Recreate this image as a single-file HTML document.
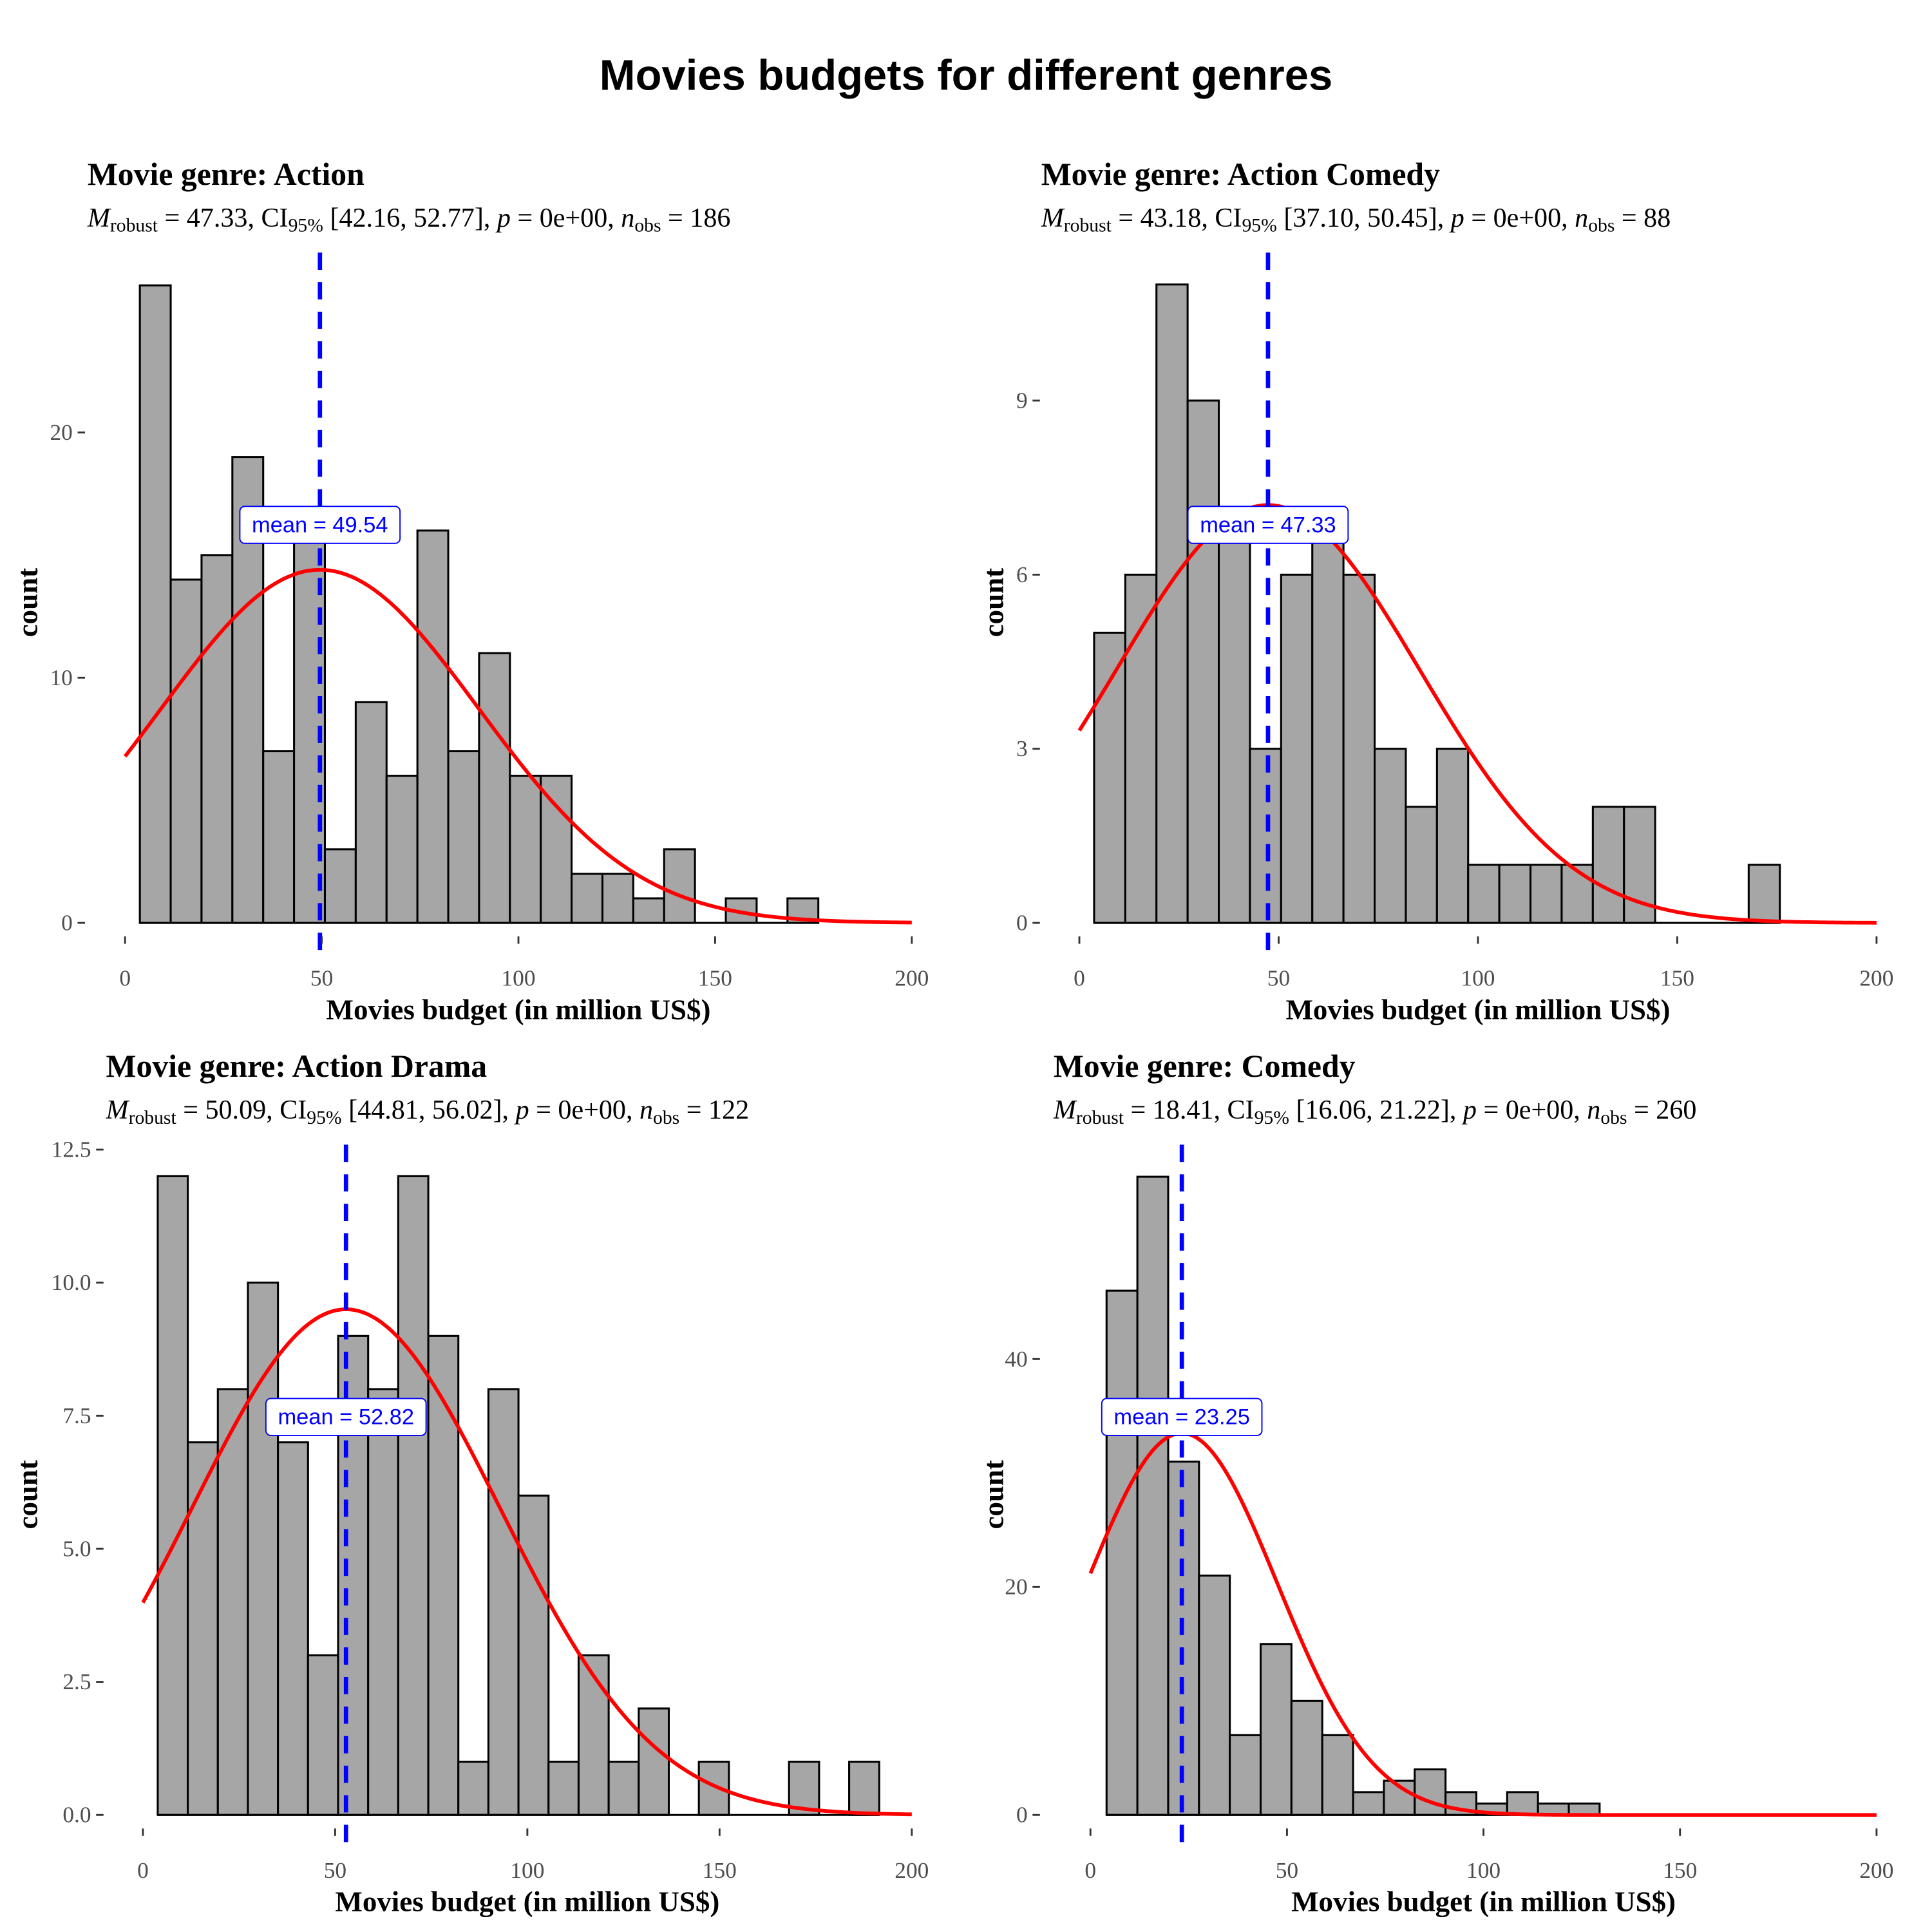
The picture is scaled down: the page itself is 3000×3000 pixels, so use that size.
<!DOCTYPE html>
<html><head><meta charset="utf-8"><style>
html,body{margin:0;padding:0;background:#fff}
svg{display:block}
.tk{font-family:"Liberation Serif",serif;font-size:18.5px;fill:#4d4d4d}
.ttl{font-family:"Liberation Serif",serif;font-size:26px;font-weight:bold;fill:#000}
.sub{font-family:"Liberation Serif",serif;font-size:22px;fill:#000}
.axt{font-family:"Liberation Serif",serif;font-size:23.5px;font-weight:bold;fill:#000}
.lbl{font-family:"Liberation Sans",sans-serif;font-size:18px;fill:#0000ff}
</style></head><body>
<svg id="chart" width="3000" height="3000" viewBox="0 0 1568 1568" xmlns="http://www.w3.org/2000/svg">
<rect width="1568" height="1568" fill="#fff"/>
<text x="784" y="73" text-anchor="middle" style="font-family:'Liberation Sans',sans-serif;font-size:35px;font-weight:bold">Movies budgets for different genres</text>
</svg>
<script>
// data arrays
const genres = ["Action","Action Comedy","Action Drama","Comedy"];
const countsAction = [26,14,15,19,7,16,3,9,6,16,7,11,6,6,2,2,1,3,0,1,0,1];
const countsActionComedy = [5,6,11,9,7,3,6,7,6,3,2,3,1,1,1,1,2,2,0,0,0,1];
const countsActionDrama = [12,7,8,10,7,3,9,8,12,9,1,8,6,1,3,1,2,0,1,0,0,1,0,1];
const countsComedy = [46,56,31,21,7,15,10,7,2,3,4,2,1,2,1,1];
const binStarts = [3.76,3.7,3.85,4.1];
const binWidths = [7.84,7.82,7.82,7.84];
const means = [49.54,47.33,52.82,23.25];
const sds = [40.4,38.0,40.1,24.3];
const peaks = [14.4,7.2,9.5,33.5];
const yTicks = [[0,10,20],[0,3,6,9],[0,2.5,5,7.5,10,12.5],[0,20,40]];
const yTickLabels = [["0","10","20"],["0","3","6","9"],["0.0","2.5","5.0","7.5","10.0","12.5"],["0","20","40"]];
const xTicks = [0,50,100,150,200];
const subtitles = [
 ["47.33","42.16","52.77","186"],["43.18","37.10","50.45","88"],
 ["50.09","44.81","56.02","122"],["18.41","16.06","21.22","260"]];
const allCounts = [countsAction,countsActionComedy,countsActionDrama,countsComedy];

// layout (not data)
const layout = [
 {x0:101.5,x1:740,y0:749,u:19.9,tx:69,tit:71,ty:150,top:205,bot:776,ycx:22,lab:426},
 {x0:876,x1:1523,y0:749,u:47.1,tx:844,tit:845,ty:150,top:205,bot:776,ycx:806,lab:426},
 {x0:116,x1:740,y0:1473,u:43.2,tx:84,tit:86,ty:874,top:929,bot:1500,ycx:22,lab:1150},
 {x0:885,x1:1523,y0:1473,u:9.25,tx:844,tit:855,ty:874,top:929,bot:1500,ycx:806,lab:1150}];
const NS="http://www.w3.org/2000/svg";
const svg=document.getElementById('chart');
function mk(tag,attrs,parent,txt){const e=document.createElementNS(NS,tag);for(const k in attrs)e.setAttribute(k,attrs[k]);if(txt!==undefined)e.textContent=txt;(parent||svg).appendChild(e);return e;}

genres.forEach((g,i)=>{
 const L=layout[i];
 const sx=v=>L.x0+(L.x1-L.x0)*v/200;
 const sy=v=>L.y0-v*L.u;
 const grp=mk('g',{});
 
 
 const t=mk('text',{x:L.tit,y:L.ty,class:'ttl'},grp,'Movie genre: '+g);
 
 
 const s=subtitles[i];
 const st=mk('text',{x:L.tit,y:L.ty+34,class:'sub'},grp);
 
 
 mk('tspan',{'font-style':'italic'},st,'M');
 mk('tspan',{'font-size':'15.5','dy':'4'},st,'robust');
 mk('tspan',{'dy':'-4'},st,' = '+s[0]+', CI');
 mk('tspan',{'font-size':'15.5','dy':'4'},st,'95%');
 mk('tspan',{'dy':'-4'},st,' ['+s[1]+', '+s[2]+'], ');
 mk('tspan',{'font-style':'italic'},st,'p');
 mk('tspan',{},st,' = 0e+00, ');
 mk('tspan',{'font-style':'italic'},st,'n');
 mk('tspan',{'font-size':'15.5','dy':'4'},st,'obs');
 mk('tspan',{'dy':'-4'},st,' = '+s[3]);
 allCounts[i].forEach((c,j)=>{
  if(c<=0)return;
  const a=binStarts[i]+j*binWidths[i];
  const r=mk('rect',{x:sx(a),y:sy(c),width:sx(a+binWidths[i])-sx(a),height:c*L.u,fill:'#a6a6a6',stroke:'#000','stroke-width':1.6},grp);
  
  
 });
 const n=allCounts[i].length;
 const bl=mk('line',{x1:sx(binStarts[i]),x2:sx(binStarts[i]+n*binWidths[i]),y1:L.y0,y2:L.y0,stroke:'#000','stroke-width':1.6},grp);
 
 
 let d='';
 for(let k=0;k<=200;k++){const v=peaks[i]*Math.exp(-Math.pow(k-means[i],2)/(2*sds[i]*sds[i]));d+=(k?'L':'M')+sx(k).toFixed(2)+','+sy(v).toFixed(2);}
 const cu=mk('path',{d:d,fill:'none',stroke:'#ff0000','stroke-width':3},grp);
 
 
 const ml=mk('line',{x1:sx(means[i]),x2:sx(means[i]),y1:L.top,y2:L.bot,stroke:'#0000ff','stroke-width':3.5,'stroke-dasharray':'14 10'},grp);
 
 
 const lg=mk('g',{},grp);
 
 
 mk('rect',{x:sx(means[i])-65,y:L.lab-15,width:130,height:30,rx:4,fill:'#fff',stroke:'#0000ff','stroke-width':1},lg);
 mk('text',{x:sx(means[i]),y:L.lab+6,'text-anchor':'middle',class:'lbl'},lg,'mean = '+means[i].toFixed(2));
 yTicks[i].forEach((v,j)=>{
  const tl=mk('line',{x1:L.tx-6,x2:L.tx,y1:sy(v),y2:sy(v),stroke:'#333','stroke-width':1.5},grp);
  
  
  const tt=mk('text',{x:L.tx-10,y:sy(v)+6,'text-anchor':'end',class:'tk'},grp,yTickLabels[i][j]);
  
  
 });
 xTicks.forEach(v=>{
  const xb=L.y0+11;
  const tl=mk('line',{x1:sx(v),x2:sx(v),y1:xb,y2:xb+6,stroke:'#333','stroke-width':1.5},grp);
  
  
  const tt=mk('text',{x:sx(v),y:L.y0+51,'text-anchor':'middle',class:'tk'},grp,String(v));
  
  
 });
 const xt=mk('text',{x:(L.x0+L.x1)/2,y:L.y0+78,'text-anchor':'middle',class:'axt'},grp,'Movies budget (in million US$)');
 
 
 const cy=(L.top+L.y0)/2+12;
 const yt=mk('text',{x:L.ycx+8,y:cy,'text-anchor':'middle',class:'axt',transform:'rotate(-90 '+(L.ycx+8)+' '+cy+')'},grp,'count');
 
 
});
</script>
</body></html>
